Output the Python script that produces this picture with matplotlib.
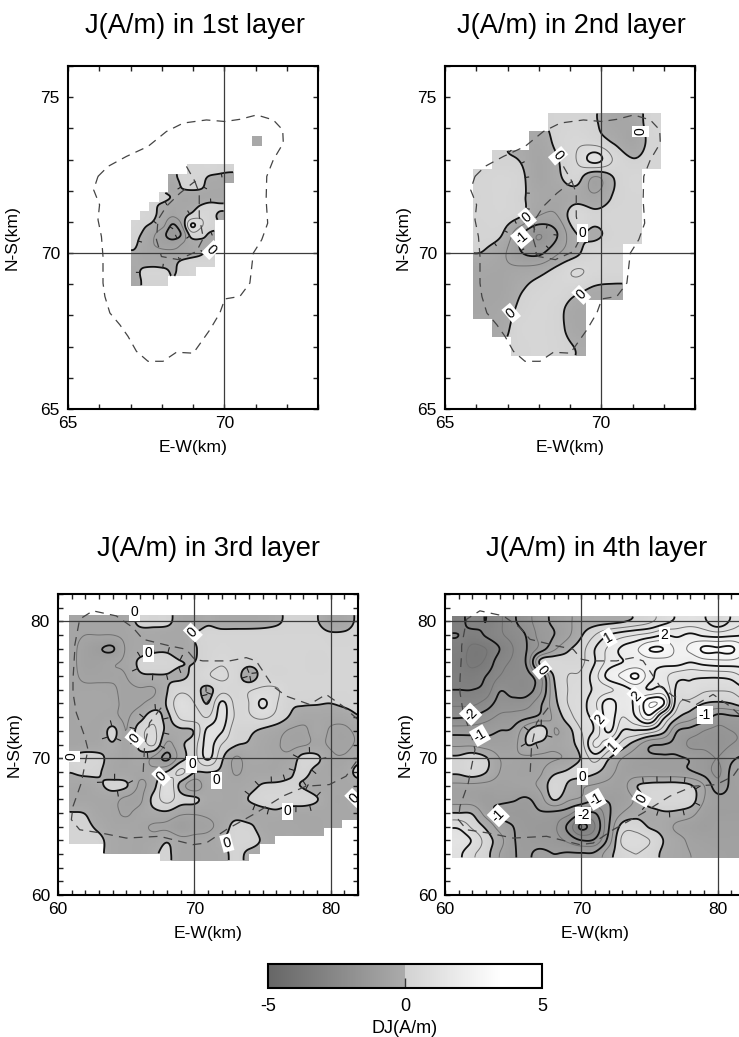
import numpy as np
import matplotlib
matplotlib.use("Agg")
import matplotlib.pyplot as plt
from matplotlib.colors import LinearSegmentedColormap, Normalize
from matplotlib.cm import ScalarMappable

plt.rcParams['font.family'] = ['Liberation Sans', 'DejaVu Sans']
plt.rcParams['axes.unicode_minus'] = False
n = np.nan
W, H = 739, 1037

# ---------- data (DJ in A/m, rows run from north to south) ----------
p1_x = [67.15 + 0.3 * i for i in range(14)]
p1_y = [73.6, 73.3, 73.0, 72.7, 72.4, 72.1, 71.8, 71.5, 71.2, 70.9, 70.6, 70.3, 70.0, 69.7, 69.4, 69.1]
p1_z = [
 [n, n, n, n, n, n, n, n, n, n, n, n, n, -.2],
 [n, n, n, n, n, n, n, n, n, n, n, n, n, n],
 [n, n, n, n, n, n, n, n, n, n, n, n, n, n],
 [n, n, n, n, n, n, .2, .25, .25, .15, .1, n, n, n],
 [n, n, n, n, -.1, .1, .2, .15, -.1, -.15, -.2, n, n, n],
 [n, n, n, n, -.3, .02, .1, .05, -.2, -.25, n, n, n, n],
 [n, n, n, .1, -.05, -.3, -.3, -.3, -.3, -.3, n, n, n, n],
 [n, n, .05, -.1, -.3, -.3, -.2, .05, .2, .1, n, n, n, n],
 [n, .2, .05, -.2, -.45, -.2, .15, .4, .25, -.1, n, n, n, n],
 [.2, .05, -.1, -.4, -1.05, -.45, 1.05, .6, .2, n, n, n, n, n],
 [.1, -.1, -.45, -.85, -1.3, -.9, .25, .15, -.05, n, n, n, n, n],
 [.05, -.25, -.5, -.65, -.7, -.5, -.25, -.1, -.05, n, n, n, n, n],
 [-.05, -.3, -.35, -.4, -.4, -.35, -.2, -.05, .1, n, n, n, n, n],
 [-.1, -.2, -.2, -.25, -.15, .1, .2, .2, .2, n, n, n, n, n],
 [-.15, .15, .2, .15, -.05, .15, .2, n, n, n, n, n, n, n],
 [-.2, .1, .1, .1, n, n, n, n, n, n, n, n, n, n],
]

p2_x = [66.2, 66.8, 67.4, 68.0, 68.6, 69.2, 69.8, 70.4, 71.0, 71.6]
p2_y = [74.2, 73.6, 73.0, 72.4, 71.8, 71.2, 70.6, 70.0, 69.4, 68.8, 68.2, 67.6, 67.0]
p2_z = [
 [n, n, n, n, .15, .2, .05, -.35, -.3, .2],
 [n, n, n, -.3, .15, .4, .25, -.08, -.4, .15],
 [n, .05, -.02, -.4, -.03, .5, 1.2, .45, .03, .2],
 [.2, .3, .15, -.4, -.1, .2, -.6, 0, .3, n],
 [.2, .3, .1, -.25, -.35, -.2, -.4, .05, .25, n],
 [.2, .25, .05, -.5, -.5, .4, .15, .25, .25, n],
 [.15, .03, -.9, -1.5, -1.0, -.02, -.1, .2, .25, n],
 [-.02, -.35, -.95, -1.1, -.55, -.1, .3, .3, n, n],
 [-.35, -.4, -.3, -.15, .2, .55, .35, .3, n, n],
 [-.4, -.4, -.05, .2, .3, .1, -.1, -.15, n, n],
 [-.4, -.3, .1, .3, .15, -.25, n, n, n, n],
 [n, -.2, .25, .3, .15, -.25, n, n, n, n],
 [n, n, .2, .3, .2, -.02, n, n, n, n],
]

p3_x = list(range(61, 83))
p3_y = list(range(80, 62, -1))
p3_z = [
 [-.4, -.4, -.4, -.4, -.35, .15, .15, .15, -.3, -.3, -.08, -.25, -.25, -.25, -.2, -.08, .1, .1, .03, -.4, -.3, .1],
 [-.4, -.5, -.5, -.5, -.4, -.25, -.2, -.3, -.3, .0, .2, .2, .2, .2, .2, .2, .2, .2, .2, .1, .1, .2],
 [-.4, -.7, -.95, -1.05, -.45, -.25, -.1, -.1, -.3, -.05, .2, .3, .25, .2, .2, .2, .2, .2, .2, .2, .2, .2],
 [-.4, -.7, -.7, -.55, -.4, .1, .2, .2, .02, 0, .25, .45, .3, .15, .2, .2, .2, .2, .12, .2, .2, .2],
 [-.4, -.6, -.6, -.55, -.5, -.1, -.05, -.03, -.1, .15, .45, .6, .3, -.3, .2, .2, .2, .2, .2, .2, .2, .2],
 [-.4, -.4, -.4, -.45, -.6, -.55, -.55, -.02, .35, .2, -.15, .35, .3, .45, .6, .55, .25, .2, .2, .2, .2, .2],
 [-.4, -.35, -.35, -.4, -.6, -.55, -.3, .05, .9, .5, 0, 1.1, .4, .5, 1.1, .55, .1, .05, .03, .0, .1, .2],
 [-.4, -.35, -.4, -.4, -.55, -.2, .3, -.1, .6, .7, .5, 1.2, .45, .45, .6, .35, -.05, -.3, -.3, -.35, -.3, -.05],
 [-.4, -.4, -.4, .15, -.5, .3, .6, -.15, -.1, .05, 1.15, 1.05, .2, .1, -.1, -.3, -.55, -.6, -.3, -.55, -.6, -.4],
 [-.4, -.35, -.3, -.05, -.45, .15, .55, -.6, -.1, .3, 1.2, .5, .05, -.05, -.3, -.45, -.6, -.55, -.4, -.55, -.6, -.45],
 [.1, .25, .15, -.25, -.4, -.2, -.6, -1.1, -.2, .3, 1.1, .1, -.55, -.3, -.3, -.4, -.35, .2, .1, -.4, -.45, -.2],
 [.02, .15, .05, -.3, -.35, -.4, -.35, .03, .6, .03, .02, -.1, -.55, -.35, -.35, -.35, -.1, .15, -.2, -.35, -.3, .15],
 [-.3, -.35, -.1, .15, .05, -.55, -.2, .9, -.2, -.8, -.2, -.25, -.3, -.2, .05, .1, .1, -.05, -.3, -.3, -.3, -.2],
 [-.35, -.35, -.35, -.35, -.6, -.6, .15, .7, .2, .1, -.2, -.25, -.3, .02, .25, .3, .3, .25, .02, -.3, -.3, .05],
 [.02, -.02, -.3, -.4, -.55, -.35, -.15, -.1, -.4, -.45, -.4, -.3, -.2, -.3, -.2, -.1, -.3, -.3, -.3, -.3, -.3, -.25],
 [.15, .1, -.1, -.35, -.35, -.4, -.55, -.6, -.9, -.7, -.6, -.3, .15, .1, -.2, -.3, -.3, -.35, -.35, -.3, -.3, -.3],
 [.15, .15, .1, -.2, -.3, -.35, -.3, -.05, -.35, -.35, -.3, -.05, .2, .2, -.05, -.25, -.2, -.3, -.3, -.3, -.3, -.3],
 [.15, .15, .1, -.2, -.3, -.35, -.1, .1, -.35, -.35, -.3, -.2, .15, -.1, -.2, -.2, -.2, -.3, -.3, -.3, -.3, -.3],
]
# south edge of the surveyed area in layer 3: (east limit of step, south edge)
p3_step_x = [63.3, 67.45, 74.04, 74.77, 75.87, 79.54, 80.76, 82.6]
p3_step_y = [63.67, 63.05, 62.45, 63.05, 63.67, 64.33, 64.9, 65.46]

p4_x = list(range(61, 83))
p4_y = list(range(80, 62, -1))
p4_z = [
 [-3.2, -2.8, -3.0, -2.6, -2.1, -1.7, -1.2, -.9, -.6, -.3, -.2, -.15, -.05, .15, .4, .8, 1.1, 1.2, 1.1, .6, 1.1, 1.5],
 [-3, -3.2, -2.95, -2.6, -2.3, -1.95, -1.3, -1, -.6, -.05, .5, 1, 1.3, 1.5, 1.7, 2, 1.9, 2.1, 1.9, 1.8, 1.9, 2],
 [-3.2, -3.6, -3.5, -3, -2.5, -2, -1.3, -.6, -.1, .3, 1, 1.6, 2.1, 2.4, 3, 3, 2.4, 2.6, 3.1, 3.05, 3.1, 2.5],
 [-3.3, -3.6, -3.4, -2.7, -2.4, -1.9, .15, .4, .3, .4, 1, 1.7, 2, 2.1, 2.2, 2.2, 2.2, 2, 2.2, 2.3, 2.3, 2.2],
 [-3.2, -3.3, -3, -2.5, -2.3, -2.2, -1.5, .05, .5, .6, 1.3, 2.2, 2.6, 3.1, 2.2, 1.7, 1.2, 1.1, 1.1, 1.1, 1.2, 1.6],
 [-3, -3, -2.8, -2.05, -2.2, -2.2, -1.6, -.1, .5, .7, 1.1, 1.4, 1.7, 2.1, 2.0, 2.1, .9, .9, .6, .55, .6, .9],
 [-2.6, -2.6, -2.3, -1.8, -1.8, -1.7, -1.1, -.2, .5, .8, 1.4, 2.3, 1.7, 2.2, 3.5, 3.1, .7, .3, 0, -.1, 0, .3],
 [-2.05, -1.95, -1.7, -1.4, -1.3, -1.1, -.85, -.4, .25, .8, 1.2, 2.3, 1.5, 2, 2.8, 1.2, .1, -.3, -.7, -1.2, -1.1, -1.05],
 [-1.2, -1.2, -1.15, -1, -.9, -.1, .4, -.5, -.2, .5, 1.1, 2.1, 1, .95, .8, .2, -.95, -1.2, -1.5, -1.6, -1.5, -1.4],
 [-.6, -.6, -.75, -.8, -.7, .0, -.15, -.4, -.2, .3, 1.6, 1, .3, -.3, -.9, -1, -1.15, -1.6, -1.6, -1.7, -1.5, -1.4],
 [.1, .3, .05, -.5, -.55, -.6, -.6, -.55, -.4, .05, .7, .05, -.5, -.8, -.9, -.95, -.95, -1.05, -1.3, -1.5, -1.1, -.9],
 [.1, .3, .02, -.5, -.6, -.65, -.55, -.1, .05, .25, .1, -.3, -.7, -.8, -.8, -.85, -.85, -.95, -1.2, -1.6, -.9, -.75],
 [-.6, -.6, -.65, -.7, -.65, -.6, -.4, .3, -.05, -.4, -.55, -.65, -.7, -.05, .15, .2, .2, .05, -.5, -1.3, -.9, -.8],
 [-.7, -.75, -.95, -.9, -.95, -1.05, -.7, .05, -.4, -.6, -.95, -.95, -.8, -.4, .3, .4, .4, .3, -.5, -.85, -.85, -.85],
 [0, -.05, -.7, -1.1, -1.2, -1.2, -1.05, -1.1, -1.3, -1.9, -2, -1.1, -.5, -.2, -.2, -.05, -.1, -.3, -.75, -.9, -.9, -.9],
 [.9, .4, -.1, -.7, -1, -1.2, -1.3, -1.4, -2.1, -3.1, -2.5, -1.05, .2, .3, -.05, -.2, -.6, -.75, -.9, -.8, -.8, -.8],
 [1.3, .95, .3, -.3, -.95, -1.1, -1.2, -1.3, -1.6, -2, -1.9, -.8, .6, .7, .5, 0, -.3, -.6, -.7, -.75, -.75, -.75],
 [1.1, .6, .2, -.5, -.95, -1.05, -.9, -1, -.95, -.95, -.9, -.2, .3, .5, .3, -.1, -.3, -.5, -.6, -.65, -.7, -.7],
]

# dashed outlines (km)
small_outer_x = [65.96, 66.28, 66.87, 67.56, 68.15, 68.69, 69.43, 70.02, 70.50, 71.04, 71.57, 71.87, 71.89, 71.57, 71.36,
                 71.34, 71.39, 71.20, 70.93, 70.82, 70.50, 70.02, 69.86, 69.54, 69.01, 68.47, 68.04, 67.56, 67.19, 66.92,
                 66.66, 66.34, 66.18, 66.12, 66.12, 66.07, 65.96, 66.01, 65.82, 65.96]
small_outer_y = [72.46, 72.78, 73.10, 73.42, 73.90, 74.17, 74.27, 74.22, 74.29, 74.43, 74.27, 73.95, 73.53, 72.99, 72.46,
                 71.71, 70.96, 70.43, 70.00, 69.04, 68.61, 68.53, 68.08, 67.54, 66.79, 66.82, 66.53, 66.53, 66.85, 67.33,
                 67.70, 68.08, 68.61, 69.04, 69.89, 70.53, 71.07, 71.55, 72.03, 72.46]
small_inner_x = [68.79, 69.06, 68.58, 68.15, 67.88, 67.83, 67.99, 68.53, 69.11, 69.33, 69.2, 69.2, 69.06]
small_inner_y = [72.78, 72.30, 71.92, 71.5, 71.07, 70.43, 69.89, 69.79, 70.05, 70.48, 71.18, 71.92, 72.30]
large_outer_x = [81.98, 80.88, 79.66, 78.44, 76.73, 75.75, 74.53, 73.80, 72.58, 70.62, 70.01, 69.40, 68.18, 66.23, 65.49,
                 64.27, 62.56, 61.59, 61.22, 61.22, 61.10, 61.10, 61.34, 61.95, 62.20, 61.95, 61.71, 61.10, 60.98, 61.59,
                 63.17, 65.01, 67.45, 69.89, 70.87, 72.33, 74.53, 76.48, 78.19, 79.90, 81.12, 81.98]
large_outer_y = [72.83, 73.81, 74.66, 73.93, 74.54, 75.27, 77.11, 77.35, 77.11, 77.11, 77.23, 77.96, 78.21, 78.69, 79.55,
                 80.40, 80.77, 80.16, 78.21, 77.72, 75.76, 74.79, 73.32, 71.61, 70.63, 69.41, 68.19, 66.48, 65.51, 64.77,
                 64.53, 64.16, 64.29, 63.68, 63.80, 64.77, 66.00, 67.22, 67.95, 68.07, 68.68, 69.90]
large_inner_x = [67.57, 66.72, 66.35, 66.23]
large_inner_y = [73.69, 72.59, 70.88, 68.68]

# contour labels: x, y, text, rotation
p1_labels = [(69.59, 70.1, '0', -45)]
p2_labels = [(71.26, 73.9, '0', 90), (68.62, 73.12, '0', -50), (67.63, 71.14, '0', 40), (67.45, 70.5, '-1', 40),
             (69.41, 70.64, '0', 0), (69.36, 68.66, '0', 45), (67.12, 68.08, '0', 40)]
p3_labels = [(69.89, 79.18, '0', 45), (66.64, 77.67, '0', 0), (65.62, 71.42, '0', 50), (60.98, 70.15, '0', 90),
             (67.57, 68.68, '0', 45), (69.82, 69.54, '0', 0), (71.6, 68.39, '0', 0), (76.85, 66.12, '0', 0),
             (72.38, 63.8, '0', 15), (81.73, 67.09, '0', 45), (65.6, 80.65, '0', 0)]
p4_labels = [(67.13, 76.45, '0', -50), (72.01, 78.82, '1', 30), (76.07, 78.99, '2', 0), (74.04, 74.55, '2', 45),
             (71.36, 72.84, '2', 50), (72.33, 70.88, '1', 45), (70.06, 68.64, '0', 0), (74.41, 67.03, '0', 60),
             (79.05, 73.15, '-1', 0), (61.88, 73.21, '-2', 45), (62.56, 71.66, '-1', 30), (63.91, 65.8, '-1', 45),
             (71.06, 67.0, '-1', 30), (70.13, 65.82, '-2', 0)]

thick_levels = [-5, -4, -3, -2, -1, 0, 1, 2, 3, 4, 5]
thin_levels = [-4.5, -3.5, -2.5, -1.5, -0.5, 0.5, 1.5, 2.5, 3.5, 4.5]

cmap = LinearSegmentedColormap.from_list('dj', [(0, '#666666'), (0.4999, '#ababab'), (0.5, '#d2d2d2'),
                                                (0.85, '#ffffff'), (1, '#ffffff')], N=512)
norm = Normalize(-5, 5)


def fill_gaps(z):
    z = z.copy()
    while np.isnan(z).any():
        p = np.pad(z, 1, constant_values=np.nan)
        stack = np.stack([p[:-2, 1:-1], p[2:, 1:-1], p[1:-1, :-2], p[1:-1, 2:]])
        cnt = (~np.isnan(stack)).sum(0)
        mean = np.where(cnt > 0, np.nansum(stack, 0) / np.maximum(cnt, 1), np.nan)
        z = np.where(np.isnan(z), mean, z)
    return z


def cubic_axis0(a, k):
    m = a.shape[0]
    a2 = np.pad(a, ((2, 2), (0, 0)), mode='edge')
    u = (np.arange(m * k) + .5) / k - .5
    i = np.floor(u).astype(int)
    t = (u - i)[:, None]
    p0, p1, p2, p3 = a2[i + 1], a2[i + 2], a2[i + 3], a2[i + 4]
    return .5 * (2 * p1 + (p2 - p0) * t + (2 * p0 - 5 * p1 + 4 * p2 - p3) * t ** 2 + (3 * p1 - p0 - 3 * p2 + p3) * t ** 3)


def refine(x, y, rows, k):
    z = np.array(rows, float)[::-1]
    x = np.array(x, float)
    y = np.array(y, float)[::-1]
    dx, dy = x[1] - x[0], y[1] - y[0]
    mask = np.kron(np.isnan(z), np.ones((k, k), bool))
    zf = fill_gaps(z)
    zf = cubic_axis0(zf, k)
    zf = cubic_axis0(zf.T, k).T
    xf = x[0] - dx / 2 + (np.arange(len(x) * k) + .5) * dx / k
    yf = y[0] - dy / 2 + (np.arange(len(y) * k) + .5) * dy / k
    return xf, yf, zf, mask


def hachures(ax, cs, xf, yf, zf, spec):
    step, length = spec['step'], spec['len']
    for lev, segs in zip(cs.levels, cs.allsegs):
        if lev not in spec['levels']:
            continue
        for seg in segs:
            if len(seg) < 8:
                continue
            closed = np.allclose(seg[0], seg[-1])
            region = spec.get('region')
            if spec['closed'] and not closed and region is None:
                continue
            d = np.hypot(*np.diff(seg, axis=0).T)
            s = np.r_[0, np.cumsum(d)]
            if s[-1] < step * .6:
                continue
            for pos in np.arange(step / 2, s[-1], step):
                j = min(np.searchsorted(s, pos), len(seg) - 2)
                tx, ty = seg[j + 1] - seg[j]
                nr = np.hypot(tx, ty)
                if nr == 0:
                    continue
                px, py = seg[j]
                if region is not None and not closed:
                    if not (region[0] <= px <= region[1] and region[2] <= py <= region[3]):
                        continue
                nx, ny = -ty / nr, tx / nr
                ii = np.clip(np.searchsorted(xf, px + nx * length), 0, len(xf) - 1)
                jj = np.clip(np.searchsorted(yf, py + ny * length), 0, len(yf) - 1)
                if zf[jj, ii] > lev:
                    nx, ny = -nx, -ny
                ax.plot([px, px + nx * length], [py, py + ny * length], color='#222222', lw=.8, zorder=4)


def panel(box, xlim, ylim, xf, yf, zf, mask, major, labels, outlines, grid, hach, ylab_px, xlab_px):
    l, r, t, b = box
    ax = fig.add_axes([l / W, 1 - b / H, (r - l) / W, (b - t) / H])
    zm = np.ma.array(zf, mask=mask)
    ax.pcolormesh(xf, yf, zm, cmap=cmap, norm=norm, shading='nearest', zorder=1)
    ax.contour(xf, yf, zm, levels=thin_levels, colors='#707070', linewidths=.7, zorder=2, negative_linestyles='solid')
    cs = ax.contour(xf, yf, zm, levels=thick_levels, colors='#111111', linewidths=1.3, zorder=3,
                    negative_linestyles='solid')
    hachures(ax, cs, xf, yf, zf, hach)
    for ox, oy in outlines:
        ax.plot(ox, oy, color='#444444', lw=.9, dashes=(7, 5), zorder=5)
    for g in grid:
        ax.axvline(g, color='#3c3c3c', lw=.9, zorder=6)
        ax.axhline(g, color='#3c3c3c', lw=.9, zorder=6)
    for lx, ly, s, rot in labels:
        ax.text(lx, ly, s, rotation=rot, rotation_mode='anchor', ha='center', va='center', fontsize=10, zorder=7,
                clip_on=True, bbox=dict(facecolor='white', edgecolor='none', pad=1.2))
    ax.set_xlim(*xlim)
    ax.set_ylim(*ylim)
    xt = np.arange(xlim[0], xlim[1] + 1)
    yt = np.arange(ylim[0], ylim[1] + 1)
    ax.set_xticks(xt)
    ax.set_yticks(yt)
    ax.set_xticklabels([str(v) if v in major else '' for v in xt])
    ax.set_yticklabels([str(v) if v in major else '' for v in yt])
    ax.tick_params(direction='in', top=True, right=True, length=3.6, width=1, labelsize=12.5, color='#222222')
    ax.tick_params(axis='x', pad=5)
    ax.tick_params(axis='y', pad=5.8)
    for sp in ax.spines.values():
        sp.set_linewidth(1.5)
        sp.set_zorder(8)
    ax.set_xlabel('E-W(km)', fontsize=12.6)
    ax.set_ylabel('N-S(km)', fontsize=12.6)
    ax.xaxis.label.set_va('center')
    ax.yaxis.label.set_va('center')
    ax.xaxis.set_label_coords(.5 if xlab_px is None else (xlab_px - l) / (r - l), -38.5 / (b - t))
    ax.yaxis.set_label_coords((ylab_px - l) / (r - l), .5)
    return ax


fig = plt.figure(figsize=(W / 100, H / 100), dpi=100)

xf, yf, zf, mask = refine(p1_x, p1_y, p1_z, 8)
panel((68, 318, 66, 409), (65, 73), (65, 76), xf, yf, zf, mask, {65, 70, 75}, p1_labels,
      [(small_outer_x, small_outer_y), (small_inner_x, small_inner_y)], [70],
      dict(levels=[0, -1], step=.8, len=.11, closed=False), 12, 193.5)

xf, yf, zf, mask = refine(p2_x, p2_y, p2_z, 12)
panel((445, 695, 66, 409), (65, 73), (65, 76), xf, yf, zf, mask, {65, 70, 75}, p2_labels,
      [(small_outer_x, small_outer_y), (small_inner_x, small_inner_y)], [70],
      dict(levels=[0, -1], step=.5, len=.11, closed=True, region=(65.8, 67.9, 70.2, 73.3)), 403, 570)

xf, yf, zf, mask = refine(p3_x, p3_y, p3_z, 10)
XX, YY = np.meshgrid(xf, yf)
mask3 = (XX < 60.85) | (YY > 80.5)
south = np.array(p3_step_y)[np.searchsorted(p3_step_x, xf).clip(0, len(p3_step_y) - 1)]
mask3 |= YY < south[None, :]
panel((58, 358, 594, 895), (60, 82), (60, 82), xf, yf, zf, mask3, {60, 70, 80}, p3_labels,
      [(large_outer_x, large_outer_y), (large_inner_x, large_inner_y)], [70, 80],
      dict(levels=[0], step=1.0, len=.4, closed=True), 14, 208)

xf, yf, zf, mask = refine(p4_x, p4_y, p4_z, 10)
XX, YY = np.meshgrid(xf, yf)
mask4 = (XX < 60.5) | (YY > 80.4) | (YY < 62.75)
panel((445, 745, 594, 895), (60, 82), (60, 82), xf, yf, zf, mask4, {60, 70, 80}, p4_labels,
      [(large_outer_x, large_outer_y), (large_inner_x, large_inner_y)], [70, 80],
      dict(levels=[0], step=1.0, len=.4, closed=True), 405, 595)

fig.text(195 / W, 1 - 26 / H, 'J(A/m) in 1st layer', ha='center', va='center', fontsize=19.6)
fig.text(571.5 / W, 1 - 26 / H, 'J(A/m) in 2nd layer', ha='center', va='center', fontsize=19.6)
fig.text(209 / W, 1 - 549 / H, 'J(A/m) in 3rd layer', ha='center', va='center', fontsize=19.6)
fig.text(597 / W, 1 - 549 / H, 'J(A/m) in 4th layer', ha='center', va='center', fontsize=19.6)

cax = fig.add_axes([268 / W, 1 - 988 / H, 274 / W, 24 / H])
cb = fig.colorbar(ScalarMappable(norm=norm, cmap=cmap), cax=cax, orientation='horizontal', ticks=[-5, 0, 5])
cb.ax.tick_params(direction='in', length=7, width=1, labelsize=13, pad=7, color='#333333')
cb.ax.xaxis.get_major_ticks()[0].tick1line.set_visible(False)
cb.ax.xaxis.get_major_ticks()[2].tick1line.set_visible(False)
cb.outline.set_linewidth(1.5)
cb.set_label('DJ(A/m)', fontsize=13, labelpad=4)

fig.savefig('out.png', dpi=100)
